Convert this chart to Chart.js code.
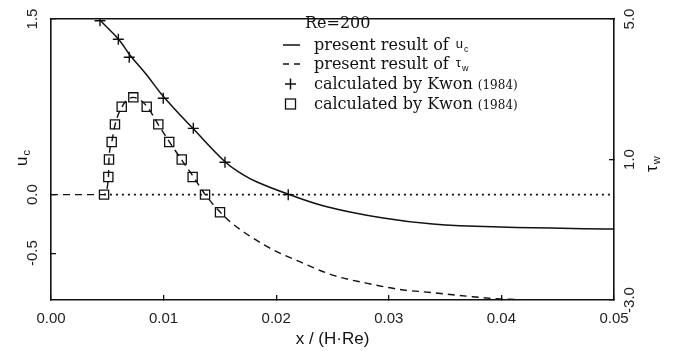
<!DOCTYPE html>
<html>
<head>
<meta charset="utf-8">
<script src="https://cdn.jsdelivr.net/npm/chart.js@4.4.1/dist/chart.umd.min.js"></script>
<style>
  html, body { margin: 0; padding: 0; background: #fff; }
  canvas { display: block; }
</style>
</head>
<body>
<canvas id="myChart" width="680" height="351"></canvas>
<script>
// present result of u_c (solid line, left axis)
const ucX = [0.0044, 0.0060, 0.0070, 0.0085, 0.0100, 0.0126, 0.0155, 0.0169, 0.0183, 0.0211, 0.0245, 0.0295, 0.0339, 0.0399, 0.0500];
const ucY = [1.485, 1.327, 1.193, 1.022, 0.836, 0.566, 0.276, 0.180, 0.108, 0.003, -0.103, -0.200, -0.251, -0.277, -0.294];

// present result of tau_w (dashed line, right axis)
const twX = [0.0, 0.0047, 0.0051, 0.00515, 0.0054, 0.0057, 0.0063, 0.0073, 0.0085, 0.0095, 0.0105, 0.0116, 0.0126, 0.0137, 0.0150, 0.0159, 0.0192, 0.0221, 0.0250, 0.0280, 0.0310, 0.0339, 0.0369, 0.0399, 0.0450, 0.0500];
const twY = [0, 0, 0.5, 1.0, 1.5, 2.0, 2.5, 2.77, 2.52, 2.01, 1.51, 0.99, 0.53, 0.0, -0.49, -0.77, -1.48, -1.91, -2.29, -2.52, -2.70, -2.79, -2.89, -2.97, -3.0, -3.0];

// Kwon (1984), u_c crosses
const kwonUcX = [0.00435, 0.00598, 0.00695, 0.00997, 0.01264, 0.01545, 0.02107];
const kwonUcY = [1.485, 1.327, 1.173, 0.823, 0.566, 0.276, 0.0];

// Kwon (1984), tau_w squares
const kwonTwX = [0.00471, 0.00509, 0.00515, 0.00539, 0.00568, 0.00628, 0.00731, 0.00850, 0.00953, 0.01050, 0.01161, 0.01258, 0.01368, 0.01501];
const kwonTwY = [0.0, 0.5, 1.0, 1.5, 2.0, 2.5, 2.77, 2.5, 2.0, 1.5, 1.0, 0.5, 0.0, -0.5];

// dotted zero line of tau_w
const zeroX = [0.0047, 0.05];
const zeroY = [0, 0];

// ticks
const xTicks = [0, 0.01, 0.02, 0.03, 0.04, 0.05];
const leftTicks = [-0.5, 0.0, 1.5];
const rightTicks = [-3, 1, 5];

const legendTitle = 'Re=200';
const legendRows = ['present result of ', 'present result of ', 'calculated by Kwon ', 'calculated by Kwon '];
const legendSubs = ['c', 'w', '', ''];
const legendYear = '(1984)';

const pts = (xs, ys) => xs.map((x, i) => ({ x: x, y: ys[i] }));
const INK = '#111';
const sans = '"Liberation Sans", Arial, sans-serif';
const serif = '"DejaVu Serif", serif';

const overlay = {
    id: 'overlay',
    afterDraw(chart) {
        const c = chart.ctx;
        c.save();
        c.fillStyle = INK;
        c.strokeStyle = INK;

        // axis titles with subscripts
        const sub = (main, s, x, y, big, small, dy) => {
            c.font = big;
            c.fillText(main, x, y);
            const w = c.measureText(main).width;
            c.font = small;
            c.fillText(s, x + w + 1, y + dy);
        };
        c.textBaseline = 'middle';
        c.textAlign = 'left';
        c.save();
        c.translate(22, 166);
        c.rotate(-Math.PI / 2);
        sub('u', 'c', 0, 0, '17px ' + sans, '11px ' + sans, 5);
        c.restore();
        c.save();
        c.translate(652, 172);
        c.rotate(-Math.PI / 2);
        sub('τ', 'w', 0, 0, '17px ' + sans, '11px ' + sans, 5);
        c.restore();

        // legend inside the plot
        c.textBaseline = 'alphabetic';
        c.font = '16px ' + serif;
        c.fillText(legendTitle, 305, 28);
        const rowY = [45, 64, 84, 104];
        const tx = 314;
        legendRows.forEach((t, i) => {
            const y = rowY[i];
            c.font = '16px ' + serif;
            c.fillText(t, tx, y + 5);
            const w = c.measureText(t).width;
            if (legendSubs[i]) {
                c.font = '13px ' + sans;
                const m = i === 0 ? 'u' : 'τ';
                c.fillText(m, tx + w + 2, y + 3);
                const mw = c.measureText(m).width;
                c.font = '9px ' + sans;
                c.fillText(legendSubs[i], tx + w + 3 + mw, y + 7);
            } else {
                c.font = '12px ' + serif;
                c.fillText(legendYear, tx + w, y + 5);
            }
        });
        c.lineWidth = 1.5;
        c.beginPath();
        c.moveTo(283, rowY[0]); c.lineTo(300, rowY[0]);
        c.moveTo(283, rowY[1]); c.lineTo(289, rowY[1]);
        c.moveTo(294, rowY[1]); c.lineTo(300, rowY[1]);
        c.moveTo(285, rowY[2]); c.lineTo(296, rowY[2]);
        c.moveTo(290.5, rowY[2] - 5.5); c.lineTo(290.5, rowY[2] + 5.5);
        c.stroke();
        c.lineWidth = 1.3;
        c.strokeRect(285.5, rowY[3] - 5, 10, 10);
        c.restore();
    }
};

const canvas = document.getElementById('myChart');
const myChart = new Chart(canvas.getContext('2d'), {
    type: 'line',
    data: {
        datasets: [
            {
                label: 'zero',
                data: pts(zeroX, zeroY),
                yAxisID: 'y2',
                borderColor: INK,
                borderWidth: 1.6,
                borderDash: [2, 4],
                pointRadius: 0,
                fill: false,
            },
            {
                label: 'present result of u_c',
                data: pts(ucX, ucY),
                yAxisID: 'y',
                borderColor: INK,
                borderWidth: 1.5,
                tension: 0.4,
                pointRadius: 0,
                fill: false,
            },
            {
                label: 'present result of tau_w',
                data: pts(twX, twY),
                yAxisID: 'y2',
                borderColor: INK,
                borderWidth: 1.4,
                borderDash: [7, 5],
                cubicInterpolationMode: 'monotone',
                pointRadius: 0,
                fill: false,
            },
            {
                label: 'calculated by Kwon (1984) u_c',
                data: pts(kwonUcX, kwonUcY),
                yAxisID: 'y',
                showLine: false,
                pointStyle: 'cross',
                pointRadius: 5.5,
                pointBorderWidth: 1.4,
                pointBorderColor: INK,
                pointBackgroundColor: INK,
            },
            {
                label: 'calculated by Kwon (1984) tau_w',
                data: pts(kwonTwX, kwonTwY),
                yAxisID: 'y2',
                showLine: false,
                pointStyle: 'rect',
                pointRadius: 6.5,
                pointBorderWidth: 1.3,
                pointBorderColor: INK,
                pointBackgroundColor: '#fff',
            }
        ]
    },
    options: {
        responsive: false,
        animation: false,
        events: [],
        layout: { padding: { top: 19, left: 0, right: 0, bottom: 0 } },
        plugins: {
            legend: { display: false },
            tooltip: { enabled: false }
        },
        scales: {
            x: {
                type: 'linear',
                position: 'bottom',
                min: 0,
                max: 0.05,
                afterBuildTicks: (s) => { s.ticks = xTicks.map(v => ({ value: v })); },
                afterFit: (s) => { s.height = 51; },
                ticks: {
                    callback: (v) => v.toFixed(2),
                    font: { family: sans, size: 15 },
                    color: '#222',
                    padding: 15,
                    maxRotation: 0,
                    minRotation: 0
                },
                grid: { display: true, drawOnChartArea: false, drawTicks: true, tickLength: -5, color: INK, lineWidth: 1.3 },
                border: { display: true, color: INK, width: 1.6 },
                title: {
                    display: true,
                    text: 'x / (H·Re)',
                    font: { family: sans, size: 17 },
                    color: '#111',
                    padding: { top: 0, bottom: 1 }
                }
            },
            xTop: {
                type: 'linear',
                position: 'top',
                min: 0,
                max: 0.05,
                afterFit: (s) => { s.height = 0; },
                ticks: { display: false },
                grid: { display: false, drawTicks: false },
                border: { display: true, color: INK, width: 1.6 }
            },
            y: {
                type: 'linear',
                position: 'left',
                min: -0.9,
                max: 1.5,
                afterBuildTicks: (s) => { s.ticks = leftTicks.map(v => ({ value: v })); },
                afterFit: (s) => { s.width = 51; },
                ticks: {
                    callback: (v) => v.toFixed(1),
                    font: { family: sans, size: 15 },
                    color: '#222',
                    minRotation: 90,
                    maxRotation: 90,
                    crossAlign: 'center',
                    padding: 10
                },
                grid: { display: true, drawOnChartArea: false, drawTicks: true, tickLength: -5, color: INK, lineWidth: 1.3 },
                border: { display: true, color: INK, width: 1.6 }
            },
            y2: {
                type: 'linear',
                position: 'right',
                min: -3,
                max: 5,
                afterBuildTicks: (s) => { s.ticks = rightTicks.map(v => ({ value: v })); },
                afterFit: (s) => { s.width = 66; },
                ticks: {
                    callback: (v) => v.toFixed(1),
                    font: { family: sans, size: 15 },
                    color: '#222',
                    minRotation: 90,
                    maxRotation: 90,
                    crossAlign: 'center',
                    padding: 8
                },
                grid: { display: true, drawOnChartArea: false, drawTicks: true, tickLength: -5, color: INK, lineWidth: 1.3 },
                border: { display: true, color: INK, width: 1.6 }
            }
        }
    },
    plugins: [overlay]
});
</script>
</body>
</html>
